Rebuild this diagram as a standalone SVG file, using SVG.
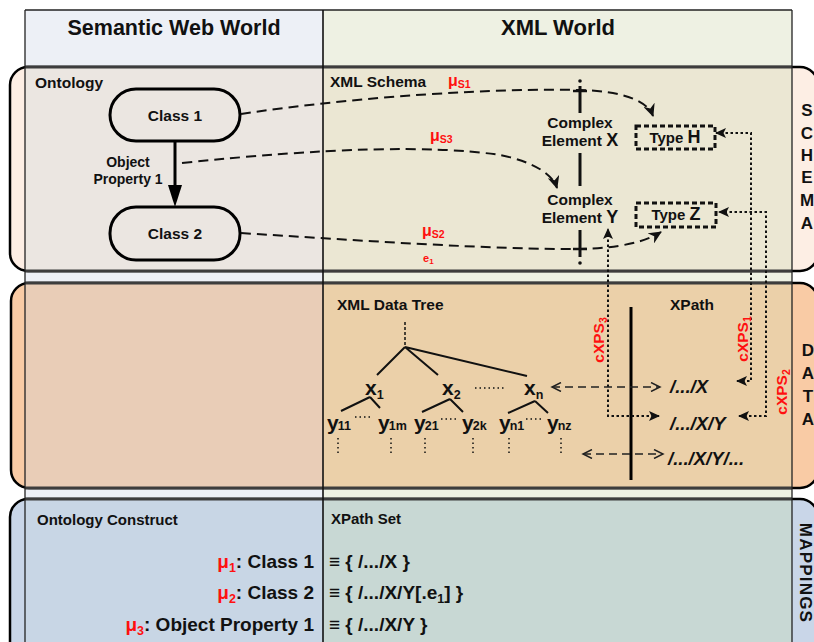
<svg xmlns="http://www.w3.org/2000/svg" width="814" height="642" viewBox="0 0 814 642">
<defs>
<style>
text{font-family:"Liberation Sans",Arial,sans-serif;font-weight:bold;fill:#111}
.red{fill:#ff1010}
.lbl{font-size:15.5px}
.node{fill:#ebe6e1;stroke:#000;stroke-width:3}
.mu{fill:none;stroke:#111;stroke-width:2;stroke-dasharray:10,6}
.dot{fill:none;stroke:#111;stroke-width:2;stroke-dasharray:2.5,2.5}
.dbl{fill:none;stroke:#222;stroke-width:1.5;stroke-dasharray:8,5}
.tree{stroke:#111;stroke-width:2;fill:none}
.frame{stroke:#000;stroke-width:2.5}
.band{stroke:#3d3d3d;stroke-width:3}
.typ{fill:none;stroke:#111;stroke-width:3;stroke-dasharray:5,3}
.col{stroke:#222;stroke-width:1.3}
.side{font-size:17px;text-anchor:middle}
.xp{font-size:18.5px;font-style:italic}
.map{font-size:19px}
.tv{font-size:21px}
.sub{font-size:12.5px}
.vd{stroke:#111;stroke-width:1.5;stroke-dasharray:1.5,3}
</style>
<marker id="ah" markerUnits="userSpaceOnUse" markerWidth="14" markerHeight="12" refX="12" refY="6" orient="auto"><path d="M0,0 L13,6 L0,12 L4,6 z" fill="#111"/></marker>
<marker id="sm" markerUnits="userSpaceOnUse" markerWidth="12" markerHeight="10" refX="10" refY="5" orient="auto-start-reverse"><path d="M0,0 L11,5 L0,10 L2.5,5 z" fill="#111"/></marker>
<marker id="op" markerUnits="userSpaceOnUse" markerWidth="12" markerHeight="10" refX="10" refY="5" orient="auto-start-reverse"><path d="M1,0.5 L10,5 L1,9.5" fill="none" stroke="#222" stroke-width="1.5"/></marker>
<marker id="big" markerUnits="userSpaceOnUse" markerWidth="24" markerHeight="16" refX="15" refY="7" orient="auto"><path d="M0,0 L22,7 L0,14 z" fill="#000"/></marker>
</defs>
<rect width="814" height="642" fill="#fff"/>
<g id="background">
<rect x="25" y="10" width="298" height="640" fill="#edf0f6"/>
<rect x="323" y="10" width="469" height="640" fill="#eef1e3"/>
<rect x="10" y="67" width="808" height="204" rx="18" fill="#fdeee4" class="frame"/>
<rect x="25" y="67" width="298" height="204" fill="#ebe6e1"/>
<rect x="323" y="67" width="469" height="204" fill="#ebe7d3"/>
<line x1="25" y1="67" x2="792" y2="67" class="band"/>
<line x1="25" y1="271" x2="792" y2="271" class="band"/>
<rect x="11" y="283" width="807" height="205" rx="18" fill="#f9cba5" class="frame"/>
<rect x="25" y="283" width="298" height="205" fill="#e9cdb7"/>
<rect x="323" y="283" width="469" height="205" fill="#ebd0a9"/>
<line x1="25" y1="283" x2="792" y2="283" class="band"/>
<line x1="25" y1="488" x2="792" y2="488" class="band"/>
<rect x="10" y="499" width="808" height="200" rx="18" fill="#c9d6e8" class="frame"/>
<rect x="25" y="499" width="298" height="200" fill="#c8d6e5"/>
<rect x="323" y="499" width="469" height="200" fill="#c8d8d4"/>
<line x1="25" y1="499" x2="792" y2="499" class="band"/>
<line x1="25" y1="10" x2="792" y2="10" class="col"/>
<line x1="25" y1="10" x2="25" y2="642" class="col"/>
<line x1="323" y1="10" x2="323" y2="642" stroke="#111" stroke-width="1.6"/>
<line x1="792" y1="10" x2="792" y2="642" class="col"/>
</g>
<g id="headers">
<text x="174" y="35" font-size="21.5" text-anchor="middle">Semantic Web World</text>
<text x="558" y="35" font-size="22" text-anchor="middle">XML World</text>
<text x="35" y="88" class="lbl">Ontology</text>
<text x="330" y="87" class="lbl">XML Schema</text>
<text x="337" y="310" class="lbl">XML Data Tree</text>
<text x="670" y="310" class="lbl">XPath</text>
<text x="37" y="525" font-size="15">Ontology Construct</text>
<text x="331" y="524" font-size="15">XPath Set</text>
<g class="side">
<text x="807" y="116">S</text><text x="807" y="139">C</text><text x="807" y="161">H</text><text x="807" y="183">E</text><text x="807" y="206">M</text><text x="807" y="229">A</text>
<text x="808" y="356">D</text><text x="808" y="379">A</text><text x="808" y="402">T</text><text x="808" y="425">A</text>
</g>
<text transform="translate(800,573) rotate(90)" font-size="17" letter-spacing="1.2" text-anchor="middle">MAPPINGS</text>
</g>
<g id="class1"><rect x="110" y="89" width="130" height="52" rx="26" class="node"/><text x="175" y="121" font-size="15.5" text-anchor="middle">Class 1</text></g>
<g id="class2"><rect x="110" y="207" width="130" height="53" rx="26" class="node"/><text x="175" y="239" font-size="15.5" text-anchor="middle">Class 2</text></g>
<g id="complexElementLine">
<circle cx="580" cy="81" r="1.8" fill="#111"/>
<line x1="580" y1="86" x2="580" y2="113" stroke="#111" stroke-width="3"/>
<line x1="580" y1="153" x2="580" y2="186" stroke="#111" stroke-width="3"/>
<line x1="580" y1="230" x2="580" y2="257" stroke="#111" stroke-width="3"/>
<circle cx="580" cy="263" r="1.8" fill="#111"/>
<line x1="573" y1="91" x2="587" y2="91" stroke="#111" stroke-width="2.5"/>
<line x1="573" y1="249" x2="587" y2="249" stroke="#111" stroke-width="2.5"/>
</g>
<g id="complexX"><text x="580" y="128" font-size="15.5" text-anchor="middle">Complex</text><text x="580" y="146" font-size="15.5" text-anchor="middle">Element <tspan font-size="18">X</tspan></text></g>
<g id="complexY"><text x="580" y="205" font-size="15.5" text-anchor="middle">Complex</text><text x="580" y="223" font-size="15.5" text-anchor="middle">Element <tspan font-size="18">Y</tspan></text></g>
<g id="typeH"><rect x="636" y="126" width="79" height="23" class="typ"/><text x="675" y="143" font-size="15" text-anchor="middle">Type <tspan font-size="18">H</tspan></text></g>
<g id="typeZ"><rect x="636" y="203" width="80" height="24" class="typ"/><text x="676" y="220" font-size="15" text-anchor="middle">Type <tspan font-size="18">Z</tspan></text></g>
<g id="objprop-label">
<text x="128" y="167" font-size="14" text-anchor="middle">Object</text>
<text x="128" y="184" font-size="14" text-anchor="middle">Property 1</text>
</g>
<g id="datatree">
<line x1="405" y1="322" x2="405" y2="346" stroke="#111" stroke-width="1.5" stroke-dasharray="3,2"/>
<path class="tree" d="M405,347 L377,375 M405,347 L438,375 M405,347 L527,376 M370,397 L341,411 M370,397 L380,408 M450,399 L422,412 M450,399 L463,412 M535,401 L508,413 M535,401 L548,413"/>
<text x="365" y="395" class="tv">x<tspan class="sub" dy="4">1</tspan></text>
<text x="442" y="395" class="tv">x<tspan class="sub" dy="4">2</tspan></text>
<text x="524" y="395" class="tv">x<tspan class="sub" dy="4">n</tspan></text>
<line x1="475" y1="388" x2="506" y2="388" class="vd"/>
<text x="327" y="430" class="tv">y<tspan class="sub" dx="-1">11</tspan></text>
<text x="378" y="430" class="tv">y<tspan class="sub" dx="-1">1m</tspan></text>
<text x="414" y="430" class="tv">y<tspan class="sub" dx="-1">21</tspan></text>
<text x="462" y="430" class="tv">y<tspan class="sub" dx="-1">2k</tspan></text>
<text x="499" y="430" class="tv">y<tspan class="sub" dx="-1">n1</tspan></text>
<text x="547" y="430" class="tv">y<tspan class="sub" dx="-1">nz</tspan></text>
<path class="vd" d="M355,417 L371,417 M441,419 L456,419 M526,419 L541,419"/>
<path class="vd" d="M338,438 L338,453 M391,438 L391,453 M425,438 L425,453 M473,438 L473,453 M509,438 L509,453 M561,438 L561,453"/>
</g>
<g id="xpaths">
<line x1="631" y1="307" x2="631" y2="480" stroke="#000" stroke-width="3"/>
<text x="670" y="393" class="xp">/.../X</text>
<text x="670" y="430" class="xp">/.../X/Y</text>
<text x="668" y="465" class="xp">/.../X/Y/...</text>
</g>
<g id="connectors">
<line x1="175" y1="141" x2="175" y2="200" stroke="#000" stroke-width="3" marker-end="url(#big)"/>
<path class="mu" d="M241,114 C360,96 500,88 580,90 C625,91 648,102 653,116" marker-end="url(#ah)"/>
<path class="mu" d="M182,163 Q400,140 500,155 C535,162 553,175 557,188" marker-end="url(#ah)"/>
<path class="mu" d="M241,233 C350,240 500,250 580,249 C620,248 645,242 661,232" marker-end="url(#ah)"/>
<path class="dot" d="M737,381 L751,381 L751,133 L716,133" marker-start="url(#sm)" marker-end="url(#sm)"/>
<path class="dot" d="M739,416 L766,416 L766,212 L719,212" marker-start="url(#sm)" marker-end="url(#sm)"/>
<path class="dot" d="M659,416 L608,416 L608,229" marker-start="url(#sm)" marker-end="url(#sm)"/>
<line x1="552" y1="387" x2="660" y2="387" class="dbl" marker-start="url(#op)" marker-end="url(#op)"/>
<line x1="583" y1="454" x2="663" y2="454" class="dbl" marker-start="url(#op)" marker-end="url(#op)"/>
</g>
<g id="connector-labels">
<text x="448" y="86" class="red" font-size="16">μ<tspan font-size="10.5" dy="2">S1</tspan></text>
<text x="430" y="141" class="red" font-size="16">μ<tspan font-size="10.5" dy="2">S3</tspan></text>
<text x="422" y="236" class="red" font-size="16">μ<tspan font-size="10.5" dy="2">S2</tspan></text>
<text x="423" y="262" class="red" font-size="11">e<tspan font-size="8" dy="2">1</tspan></text>
<text transform="translate(604,340) rotate(-90)" class="red" font-size="15.5" text-anchor="middle">cXPS<tspan font-size="10.5" dy="3">3</tspan></text>
<text transform="translate(748,339) rotate(-90)" class="red" font-size="15.5" text-anchor="middle">cXPS<tspan font-size="10.5" dy="3">1</tspan></text>
<text transform="translate(787,392) rotate(-90)" class="red" font-size="15.5" text-anchor="middle">cXPS<tspan font-size="10.5" dy="3">2</tspan></text>
</g>
<g id="mappings">
<text x="314" y="568" class="map" text-anchor="end"><tspan class="red">μ</tspan><tspan class="red" font-size="12.5" dy="4">1</tspan><tspan dy="-4">: Class 1</tspan></text>
<text x="314" y="599" class="map" text-anchor="end"><tspan class="red">μ</tspan><tspan class="red" font-size="12.5" dy="4">2</tspan><tspan dy="-4">: Class 2</tspan></text>
<text x="314" y="631" class="map" text-anchor="end"><tspan class="red">μ</tspan><tspan class="red" font-size="12.5" dy="4">3</tspan><tspan dy="-4">: Object Property 1</tspan></text>
<text x="329" y="568" class="map">≡ { /.../X }</text>
<text x="329" y="599" class="map">≡ { /.../X/Y[.e<tspan font-size="12.5" dy="4">1</tspan><tspan dy="-4">] }</tspan></text>
<text x="329" y="631" class="map">≡ { /.../X/Y }</text>
</g>
</svg>
